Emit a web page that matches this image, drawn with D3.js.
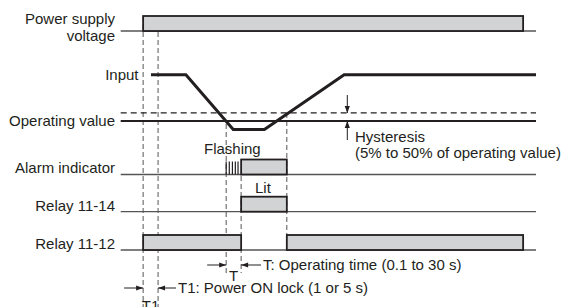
<!DOCTYPE html>
<html>
<head>
    <script src="https://d3js.org/d3.v7.min.js"></script>
</head>
<body style="margin:0; background-color: white;">
<div id="chart"></div>
<script>
// time axis in arbitrary units (0..100 across the diagram)
var powerOn = [[5.4, 96.9]];
var alarmLit = [[29.0, 40.0]];
var relay14 = [[29.0, 40.0]];
var relay12 = [[5.4, 29.0], [40.0, 96.9]];
var flashTicks = [25.4, 26.15, 26.9, 27.6, 28.25];

// input level (operating value = 100)
var inputPoints = [[7.3, 160], [15.7, 160], [27.1, 89], [34.6, 89], [53.8, 160], [100, 160]];
var operatingValue = 100;
var resetValue = 110.4;

// key instants
var tPowerOn = 5.4, tLockEnd = 9.0, tCross = 25.4, tOperate = 29.0, tReset = 40.0;

var rowLabels = ["Alarm indicator", "Relay 11-14", "Relay 11-12"];

var W = 562, H = 307;
var svg = d3.select("#chart").append("svg")
    .attr("width", W).attr("height", H)
    .style("display", "block")
    .style("font-family", "'Liberation Sans', Arial, Helvetica, sans-serif")
    .style("font-size", "15px");

var x = d3.scaleLinear().domain([0, 100]).range([120.7, 536]);
var ay = d3.scaleLinear().domain([100, 160]).range([121, 74.7]);

var rowBase = {power: 31, alarm: 174.5, r14: 211.7, r12: 250};
var rowH = 15;
var ink = "#231f20", fillGrey = "#d1d3d4";

// dashed verticals first (behind everything)
var dash = [
  {t: tPowerOn, y0: 16, y1: 307},
  {t: tLockEnd, y0: 16, y1: 307},
  {t: tCross, y0: 124, y1: 273},
  {t: tOperate, y0: 176, y1: 273},
  {t: tReset, y0: ay(resetValue), y1: 235}
];
svg.selectAll(".vdash").data(dash).enter().append("line")
    .attr("x1", function(d){ return x(d.t); }).attr("x2", function(d){ return x(d.t); })
    .attr("y1", function(d){ return d.y0; }).attr("y2", function(d){ return d.y1; })
    .attr("stroke", "#555").attr("stroke-width", 1).attr("stroke-dasharray", "5,3");

// digital rows
function drawRow(base, intervals) {
  svg.append("line").attr("x1", x(0)).attr("x2", x(100)).attr("y1", base).attr("y2", base)
      .attr("stroke", "#555").attr("stroke-width", 1.3);
  svg.selectAll(null).data(intervals).enter().append("rect")
      .attr("x", function(d){ return x(d[0]); })
      .attr("y", base - rowH)
      .attr("width", function(d){ return x(d[1]) - x(d[0]); })
      .attr("height", rowH)
      .attr("fill", fillGrey).attr("stroke", ink).attr("stroke-width", 1.8);
}
drawRow(rowBase.power, powerOn);
drawRow(rowBase.alarm, alarmLit);
drawRow(rowBase.r14, relay14);
drawRow(rowBase.r12, relay12);

// flashing ticks
svg.selectAll(".flash").data(flashTicks).enter().append("line")
    .attr("x1", function(d){ return x(d); }).attr("x2", function(d){ return x(d); })
    .attr("y1", rowBase.alarm - rowH + 2).attr("y2", rowBase.alarm)
    .attr("stroke", ink).attr("stroke-width", 1.2);

// operating value & hysteresis lines
svg.append("line").attr("x1", x(0)).attr("x2", x(100))
    .attr("y1", ay(operatingValue)).attr("y2", ay(operatingValue))
    .attr("stroke", ink).attr("stroke-width", 2);
svg.append("line").attr("x1", x(0)).attr("x2", x(100))
    .attr("y1", ay(resetValue)).attr("y2", ay(resetValue))
    .attr("stroke", ink).attr("stroke-width", 1.3).attr("stroke-dasharray", "6,4");

// input
svg.append("path").datum(inputPoints)
    .attr("d", d3.line().x(function(d){ return x(d[0]); }).y(function(d){ return ay(d[1]); }))
    .attr("fill", "none").attr("stroke", ink).attr("stroke-width", 3).attr("stroke-linejoin", "miter");

// arrow helper: line from (x0,y0) to tip (x1,y1)
function arrow(x0, y0, x1, y1) {
  var ang = Math.atan2(y1 - y0, x1 - x0), L = 7, w = 2.6;
  svg.append("line").attr("x1", x0).attr("y1", y0).attr("x2", x1).attr("y2", y1)
      .attr("stroke", ink).attr("stroke-width", 1);
  var bx = x1 - L * Math.cos(ang), by = y1 - L * Math.sin(ang);
  var px = -Math.sin(ang) * w, py = Math.cos(ang) * w;
  svg.append("path")
      .attr("d", "M" + x1 + "," + y1 + "L" + (bx + px) + "," + (by + py) + "L" + (bx - px) + "," + (by - py) + "Z")
      .attr("fill", ink);
}

// hysteresis arrows
var hx = 347.3;
arrow(hx, 95, hx, ay(resetValue));
arrow(hx, 140, hx, ay(operatingValue));

// T arrows
var yT = 265;
arrow(x(tCross) - 19, yT, x(tCross), yT);
arrow(261, yT, x(tOperate), yT);
// T1 arrows
var yT1 = 288;
arrow(x(tPowerOn) - 19, yT1, x(tPowerOn), yT1);
arrow(176, yT1, x(tLockEnd), yT1);

// texts
function label(t, xx, yy, anchor) {
  svg.append("text").attr("x", xx).attr("y", yy).attr("text-anchor", anchor || "start")
      .attr("fill", ink).text(t);
}
label("Power supply", 115, 24, "end");
label("voltage", 115, 40.5, "end");
label("Input", 138.5, 80, "end");
label("Operating value", 115, 125.5, "end");
label(rowLabels[0], 115, 173, "end");
label(rowLabels[1], 115, 211, "end");
label(rowLabels[2], 115, 248.5, "end");
label("Flashing", 204, 154);
label("Lit", 255, 192.5);
label("Hysteresis", 355, 142);
label("(5% to 50% of operating value)", 355, 158);
label("T", (x(tCross) + x(tOperate)) / 2, 281, "middle");
label("T: Operating time (0.1 to 30 s)", 263, 269.5);
label("T1", (x(tPowerOn) + x(tLockEnd)) / 2, 311, "middle");
label("T1: Power ON lock (1 or 5 s)", 178, 293);
</script>
</body>
</html>
